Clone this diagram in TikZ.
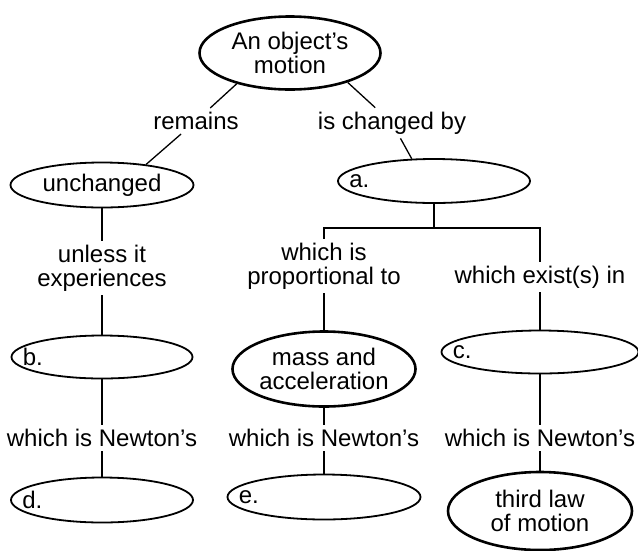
\documentclass[tikz,border=0pt]{standalone}
\usepackage{fontspec}
\setmainfont{Liberation Sans}
\usetikzlibrary{shapes.geometric}

\begin{document}
\begin{tikzpicture}[x=1pt,y=-1pt,font=\fontsize{24}{24}\selectfont]

\tikzset{
oval/.style={
    ellipse,
    draw,
    line width=1.8pt,
    fill=white,
    inner sep=0pt,
    align=center
},
bold/.style={oval,line width=2.6pt},
blank/.style={oval,label={[anchor=west,xshift=12pt,inner sep=0pt]west:#1}},
word/.style={inner sep=4pt,align=center},
link/.style={line width=1.3pt}
}

\useasboundingbox (0,0) rectangle (638,550);

\node[bold,minimum width=181pt,minimum height=73pt] (motion) at (290,53) {An object's\\motion};
\node[word] (remains) at (196,121) {remains};
\node[word] (changedby) at (392,123) {is changed by};

\node[oval,minimum width=183pt,minimum height=45pt] (unchanged) at (102,185) {unchanged};
\node[blank=a.,minimum width=192pt,minimum height=44pt] (force) at (434,181) {};

\node[word] (unless) at (102,268) {unless it\\experiences};
\node[word] (prop) at (324,266) {which is\\proportional to};
\node[word] (exist) at (540,277) {which exist(s) in};

\node[blank=b.,minimum width=181pt,minimum height=43pt] (b) at (102,357) {};
\node[bold,minimum width=182pt,minimum height=75pt] (mass) at (324,369) {mass and\\acceleration};
\node[blank=c.,minimum width=197pt,minimum height=43pt] (c) at (540,352) {};

\node[word] (newtonA) at (102,438) {which is Newton's};
\node[word] (newtonB) at (324,438) {which is Newton's};
\node[word] (newtonC) at (540,438) {which is Newton's};

\node[blank=d.,minimum width=182pt,minimum height=45pt] (d) at (102,500) {};
\node[blank=e.,minimum width=193pt,minimum height=45pt] (e) at (324,497) {};
\node[bold,minimum width=184pt,minimum height=78pt] (third) at (540,511) {third law\\of motion};

\draw[link] (motion.-150) -- (remains);
\draw[link] (remains) -- (unchanged.25);
\draw[link] (motion.-27) -- (changedby);
\draw[link] (changedby) -- (force.135);

\coordinate (fork) at (force.south |- 0,228);
\draw[link] (force.south) -- (fork);
\draw[link] (prop.north) |- (fork) -| (exist.north);

\draw[link] (unchanged) -- (unless);
\draw[link] (unless) -- (b);
\draw[link] (b) -- (newtonA);
\draw[link] (newtonA) -- (d);

\draw[link] (prop) -- (mass);
\draw[link] (mass) -- (newtonB);
\draw[link] (newtonB) -- (e);

\draw[link] (exist) -- (c);
\draw[link] (c) -- (newtonC);
\draw[link] (newtonC) -- (third);

\end{tikzpicture}
\end{document}
